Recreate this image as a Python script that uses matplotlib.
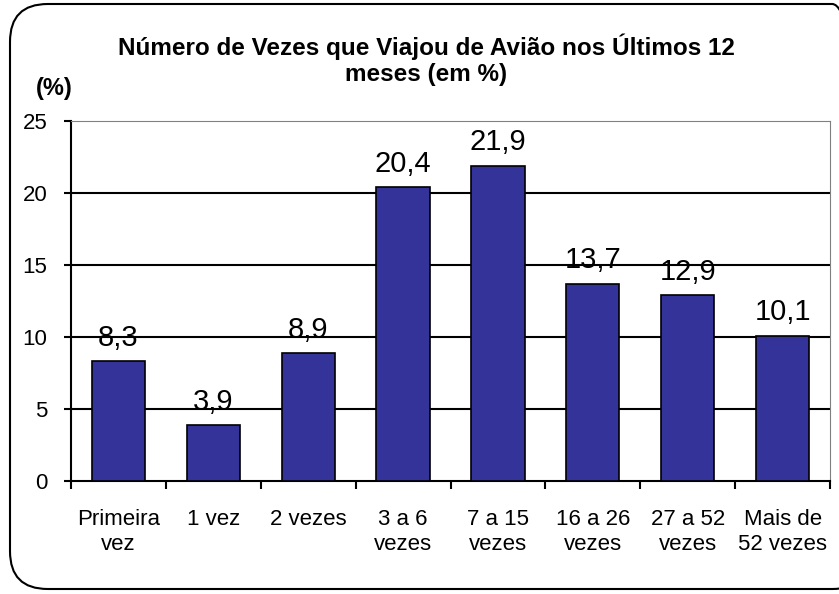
import matplotlib.pyplot as plt
from matplotlib.patches import FancyBboxPatch
import numpy as np

plt.rcParams["font.family"] = ["Liberation Sans", "DejaVu Sans"]

# Dados
categorias = ["Primeira\nvez", "1 vez", "2 vezes", "3 a 6\nvezes", "7 a 15\nvezes",
              "16 a 26\nvezes", "27 a 52\nvezes", "Mais de\n52 vezes"]
percentuais = [8.3, 3.9, 8.9, 20.4, 21.9, 13.7, 12.9, 10.1]
rotulos = ["8,3", "3,9", "8,9", "20,4", "21,9", "13,7", "12,9", "10,1"]
ticks_y = [0, 5, 10, 15, 20, 25]

W, H = 839, 594
fig = plt.figure(figsize=(W / 100, H / 100), dpi=100)

# Moldura arredondada
borda = FancyBboxPatch((10 / W, 5 / H), 860 / W, 585 / H,
                       boxstyle="round,pad=0,rounding_size=0.045",
                       transform=fig.transFigure, fill=False,
                       edgecolor="black", linewidth=1.5, clip_on=False,
                       mutation_aspect=W / H)
fig.patches.append(borda)

ax = fig.add_axes([71 / W, 1 - 481 / H, (830 - 71) / W, (481 - 121) / H])
x = np.arange(len(categorias))
ax.bar(x, percentuais, width=0.56, color="#333399", edgecolor="black",
       linewidth=1.2, zorder=3)

for xi, v, r in zip(x, percentuais, rotulos):
    ax.annotate(r, (xi, v), xytext=(0, 11), textcoords="offset points",
                ha="center", va="baseline", fontsize=21, zorder=4)

ax.set_xlim(-0.5, len(categorias) - 0.5)
ax.set_ylim(0, 25)
ax.set_yticks(ticks_y)
ax.tick_params(axis="y", labelsize=16, length=5, width=1.5, pad=12)
for yv in ticks_y[1:-1]:
    ax.axhline(yv, color="black", linewidth=1.5, zorder=1)

# ticks nas divisoes das categorias, rotulos no centro
ax.set_xticks(np.arange(-0.5, len(categorias), 1.0))
ax.set_xticklabels([])
ax.set_xticks(x, minor=True)
ax.set_xticklabels(categorias, minor=True, fontsize=16, linespacing=1.28)
ax.tick_params(axis="x", which="major", length=6, width=1.5)
ax.tick_params(axis="x", which="minor", length=0, pad=20)

ax.spines["left"].set_linewidth(1.5)
ax.spines["bottom"].set_linewidth(1.5)
ax.spines["top"].set_color("#808080")
ax.spines["right"].set_color("#808080")

fig.text(426 / W, 1 - 60 / H,
         "Número de Vezes que Viajou de Avião nos Últimos 12\nmeses (em %)",
         ha="center", va="center", fontsize=17.5, fontweight="bold", linespacing=1.15)
fig.text(54 / W, 1 - 88 / H, "(%)", ha="center", va="center",
         fontsize=17, fontweight="bold")

fig.savefig("out.png", dpi=100)
